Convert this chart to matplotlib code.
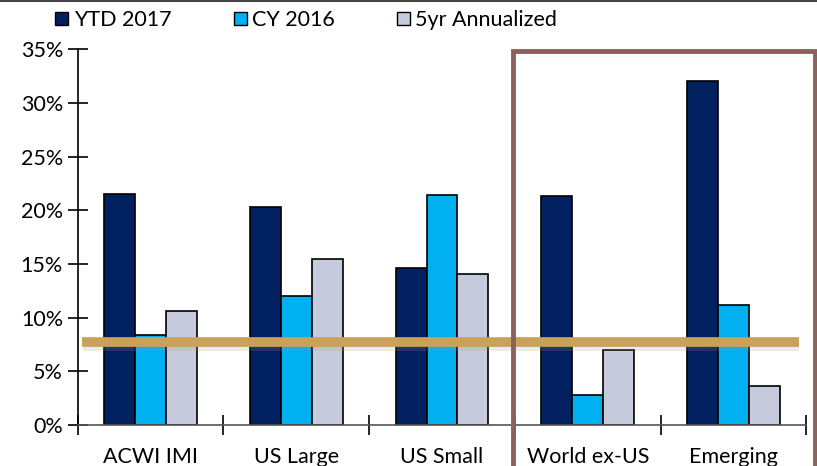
import numpy as np
import matplotlib
matplotlib.use("Agg")
import matplotlib.pyplot as plt
from matplotlib.patches import Rectangle
from matplotlib.lines import Line2D

plt.rcParams['font.family'] = ['Lato', 'DejaVu Sans']

categories = ["ACWI IMI", "US Large", "US Small", "World ex-US", "Emerging"]
series_names = ["YTD 2017", "CY 2016", "5yr Annualized"]
ytd_2017 = [21.5, 20.3, 14.6, 21.3, 32.1]
cy_2016 = [8.4, 12.0, 21.4, 2.8, 11.2]
yr5_annualized = [10.6, 15.5, 14.1, 7.0, 3.6]
avg_line = 7.7
yticks = [0, 5, 10, 15, 20, 25, 30, 35]

colors = ["#002060", "#00B0F0", "#C5CBDD"]
fs = 15.5

fig = plt.figure(figsize=(8.17, 4.66), dpi=100)
ax = fig.add_axes([0.095, 0.088, 0.892, 0.806])

x = np.arange(len(categories))
w = 0.212
for i, vals in enumerate([ytd_2017, cy_2016, yr5_annualized]):
    ax.bar(x + (i - 1) * w, vals, w, color=colors[i], edgecolor="black",
           linewidth=1.2, label=series_names[i], zorder=2)

# gold reference line with soft shadow
ax.plot([-0.46, 4.45], [avg_line - 0.3, avg_line - 0.3], color="#999999",
        lw=7, alpha=0.2, solid_capstyle="butt", zorder=3)
ax.plot([-0.47, 4.45], [avg_line, avg_line], color="#C9A15A", lw=7,
        solid_capstyle="butt", zorder=4)

ax.set_xlim(-0.5, 4.5)
ax.set_ylim(0, 35)
ax.set_yticks(yticks)
ax.set_yticklabels([f"{t}%" for t in yticks], fontsize=fs)
ax.set_xticks(x)
ax.set_xticklabels(categories, fontsize=fs)
ax.set_xticks(np.arange(-0.5, 5, 1), minor=True)
ax.tick_params(axis="x", which="major", length=0, pad=16)
ax.tick_params(axis="x", which="minor", direction="inout", length=15, width=1.2)
ax.tick_params(axis="y", direction="inout", length=15, width=1.2, pad=3)

for s in ["top", "right"]:
    ax.spines[s].set_visible(False)
ax.spines["left"].set_linewidth(1.2)
ax.spines["bottom"].set_linewidth(1.2)
ax.spines["bottom"].set_color("#555555")

# highlight box around the non-US groups
box = Rectangle((513 / 817, -0.05), (815 - 513) / 817, 1.05 - 51 / 466,
                transform=fig.transFigure, fill=False, edgecolor="#8A625B",
                linewidth=3.5, zorder=5)
fig.patches.append(box)

# thin top border line
fig.add_artist(Line2D([0, 1], [0.998, 0.998], transform=fig.transFigure,
                      color="#444444", lw=1.5))

handles = [Rectangle((0, 0), 1, 1, facecolor=c, edgecolor="black", lw=1)
           for c in colors]
fig.legend(handles, series_names, loc="upper left", bbox_to_anchor=(0.044, 1.02),
           ncol=3, frameon=False, fontsize=fs, handlelength=0.6,
           handleheight=0.6, handletextpad=0.25, columnspacing=2.9)

fig.savefig("out.png", dpi=100)
